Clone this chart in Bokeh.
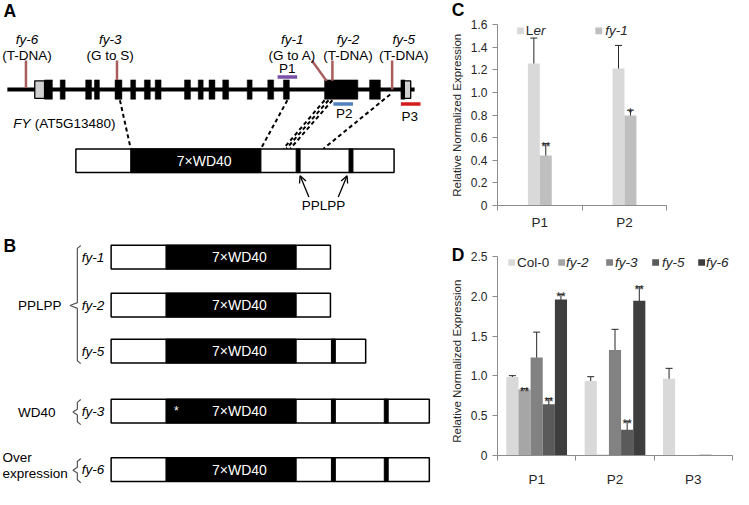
import math
from bokeh.plotting import figure
from bokeh.models import (Range1d, FixedTicker, Whisker, TeeHead, ColumnDataSource,
                          Label, BoxAnnotation, Arrow, OpenHead, NumeralTickFormatter)
from bokeh.layouts import row, column
from bokeh.core.properties import value
from bokeh.embed import file_html
from bokeh.resources import INLINE

FONT = "Liberation Sans"

# ---------------- Panel C data ----------------
c_categories = ["P1", "P2"]
c_series = ["Ler", "fy-1"]
c_ler = [1.255, 1.21]
c_ler_err = [0.225, 0.205]
c_ler_sig = ["", ""]
c_fy1 = [0.442, 0.795]
c_fy1_err = [0.105, 0.047]
c_fy1_sig = ["**", "*"]
c_colors = ["#d9d9d9", "#bfbfbf"]
c_yticks = [0, 0.2, 0.4, 0.6, 0.8, 1.0, 1.2, 1.4, 1.6]

# ---------------- Panel D data ----------------
d_categories = ["P1", "P2", "P3"]
d_series = ["Col-0", "fy-2", "fy-3", "fy-5", "fy-6"]
d_col0 = [0.985, 0.935, 0.965]
d_col0_err = [0.018, 0.055, 0.13]
d_col0_sig = ["", "", ""]
d_fy2 = [0.828, 0.01, 0.0]
d_fy2_err = [0.012, 0.0, 0.0]
d_fy2_sig = ["**", "", ""]
d_fy3 = [1.23, 1.325, 0.0]
d_fy3_err = [0.32, 0.26, 0.0]
d_fy3_sig = ["", "", ""]
d_fy5 = [0.645, 0.325, 0.01]
d_fy5_err = [0.07, 0.105, 0.0]
d_fy5_sig = ["**", "**", ""]
d_fy6 = [1.96, 1.945, 0.0]
d_fy6_err = [0.065, 0.175, 0.0]
d_fy6_sig = ["**", "**", ""]
d_colors = ["#d9d9d9", "#a6a6a6", "#828282", "#5a5a5a", "#3e3e3e"]
d_yticks = [0, 0.5, 1.0, 1.5, 2.0, 2.5]

# ---------------- Panel A: gene model ----------------
gene_span = [7, 423]
exon_starts = [45, 61, 87, 96, 117, 133, 147, 158, 188, 202, 213, 227, 252, 273, 289, 331, 377, 409]
exon_ends = [53, 66, 93, 101, 124, 138, 153, 164, 194, 207, 219, 233, 257, 279, 295, 365, 388, 413]
utr_starts = [35, 412.5]
utr_ends = [45, 419]
mut_names = ["fy-6", "fy-3", "fy-1", "fy-2", "fy-5"]
mut_types = ["(T-DNA)", "(G to S)", "(G to A)", "(T-DNA)", "(T-DNA)"]
mut_label_x = [27, 112, 298, 355, 412]
mut_top_x = [26, 119, 318, 339, 400]
mut_bot_x = [26, 119, 333, 339, 400]
mut_bot_y = [90, 82, 83, 83, 92]
primer_names = ["P1", "P2", "P3"]
primer_start = [283, 340, 409]
primer_end = [303, 360, 429]
primer_y = [79, 107, 107]
primer_label_x = [293, 351, 418]
primer_label_y = [70, 117, 120]
primer_colors = ["#7b4fa6", "#4f81bd", "#d41c1c"]

# protein domain structure (units along protein box)
protein_len = 325
domain_starts = [56, 225, 279]
domain_ends = [189, 229, 283]
full_protein_x = 77
full_protein_y = 165.5
connector_x0 = [122, 293, 331, 335, 339, 398]
connector_y0 = [103, 103, 103, 103, 103, 97]
connector_x1 = [133, 266, 289, 292, 296, 330]
connector_y1 = [153, 153, 153, 153, 153, 153]

# ---------------- Panel B: truncated proteins ----------------
b_names = ["fy-1", "fy-2", "fy-5", "fy-3", "fy-6"]
b_lengths = [224, 224, 260, 325, 325]
b_y = [265, 314.5, 362, 424, 484.5]
b_x = 113
b_groups = ["PPLPP", "WD40"]
b_group_x = [40, 37]
b_group_y = [315, 425]

AXIS_TITLE = "Relative Normalized Expression"
BOX_H = 24.5
LABEL_FS = "13.5px"
MUT_COLOR = "#a85c5c"

# =============== left figure (A + B, panel letters C/D and axis titles) ===============
pa = figure(width=467, height=489, x_range=Range1d(0, 477), y_range=Range1d(505, 0),
            output_backend="svg", toolbar_location=None, min_border=0,
            x_axis_location=None, y_axis_location=None)
pa.grid.visible = False
pa.outline_line_color = None


def txt(p, x, y, t, size=LABEL_FS, style="normal", color="black", align="center",
        baseline="middle", angle=0.0):
    p.text(x=[x], y=[y], text=[t], text_font=value(FONT), text_font_size=value(size),
           text_font_style=style, text_color=color, text_align=align, text_baseline=baseline,
           angle=angle)


# panel letters
txt(pa, 3, 11, "A", size="17.5px", style="bold", align="left")
txt(pa, 3, 254, "B", size="17.5px", style="bold", align="left")
txt(pa, 461, 10, "C", size="17.5px", style="bold", align="left")
txt(pa, 461, 263, "D", size="17.5px", style="bold", align="left")
# y-axis titles of C and D
txt(pa, 466, 118.5, AXIS_TITLE, size="11.5px", color="#262626", angle=math.pi / 2)
txt(pa, 466, 372.5, AXIS_TITLE, size="11.5px", color="#262626", angle=math.pi / 2)

# gene backbone
pa.segment(x0=[gene_span[0]], y0=[92], x1=[gene_span[1]], y1=[92], line_color="black", line_width=4)
pa.quad(left=exon_starts, right=exon_ends, top=[82] * len(exon_starts), bottom=[102] * len(exon_starts),
        fill_color="black", line_color="black", line_width=0.5)
pa.quad(left=utr_starts, right=utr_ends, top=[83, 83], bottom=[101, 101],
        fill_color="#d0d0d0", line_color="black", line_width=1.3)

# mutation sites
pa.segment(x0=mut_top_x, y0=[62] * 5, x1=mut_bot_x, y1=mut_bot_y, line_color=MUT_COLOR, line_width=2.5)
for name, typ, x in zip(mut_names, mut_types, mut_label_x):
    txt(pa, x, 40, name, style="italic")
    txt(pa, x, 56.5, typ)

# primers
for name, x0, x1, y, lx, ly, col in zip(primer_names, primer_start, primer_end, primer_y,
                                        primer_label_x, primer_label_y, primer_colors):
    pa.segment(x0=[x0], y0=[y], x1=[x1], y1=[y], line_color=col, line_width=3.5)
    txt(pa, lx, ly, name)

# gene name
txt(pa, 13, 127, "FY", style="italic", align="left")
txt(pa, 35, 127, "(AT5G13480)", align="left")

# dashed connectors
pa.segment(x0=connector_x0, y0=connector_y0, x1=connector_x1, y1=connector_y1,
           line_color="black", line_width=2, line_dash="4 3")


def protein(p, x, yc, length):
    top, bot = yc - BOX_H / 2, yc + BOX_H / 2
    p.quad(left=[x], right=[x + length], top=[top], bottom=[bot], fill_color="white",
           line_color="black", line_width=1.5)
    ls = [x + s for s, e in zip(domain_starts, domain_ends) if s < length]
    rs = [x + min(e, length) for s, e in zip(domain_starts, domain_ends) if s < length]
    p.quad(left=ls, right=rs, top=[top] * len(ls), bottom=[bot] * len(ls),
           fill_color="black", line_color="black", line_width=1)
    txt(p, x + 131, yc, "7\u00d7WD40", size="14px", color="white")


protein(pa, full_protein_x, full_protein_y, protein_len)

# PPLPP arrows
for xs, xe in [(315, 306), (345, 354)]:
    pa.add_layout(Arrow(end=OpenHead(size=7, line_width=1.3, line_color="black"),
                        x_start=xs, y_start=203, x_end=xe, y_end=181,
                        line_color="black", line_width=1.3))
txt(pa, 330, 212, "PPLPP")

# panel B constructs
for name, length, yc in zip(b_names, b_lengths, b_y):
    protein(pa, b_x, yc, length)
    txt(pa, 83, yc, name, style="italic", align="left")
txt(pa, 179.5, 424, "*", size="12px", color="white")


# brackets
def brace(p, top, bot, mid, tip):
    xs = [82, 78.5, 78.5, tip, 78.5, 78.5, 82]
    ys = [top, top + 3, mid - 3, mid, mid + 3, bot - 3, bot]
    p.line(x=xs, y=ys, line_color="#555555", line_width=1.2)


brace(pa, 253, 375, 315, 71)
brace(pa, 412, 438, 425, 74)
brace(pa, 473, 498, 485, 74)
for g, gx, gy in zip(b_groups, b_group_x, b_group_y):
    txt(pa, gx, gy, g)
txt(pa, 2, 472, "Over", align="left")
txt(pa, 2, 488, "expression", align="left")


# =============== bar charts ===============
def bar_fig(w, h, ncat, xmax, ymax, yticks, mb):
    p = figure(width=w, height=h, x_range=Range1d(0, xmax), y_range=Range1d(0, ymax),
               output_backend="svg", toolbar_location=None,
               min_border_left=mb[0], min_border_right=mb[1], min_border_top=mb[2],
               min_border_bottom=mb[3])
    p.grid.visible = False
    p.outline_line_color = None
    ya = p.yaxis[0]
    ya.ticker = FixedTicker(ticks=yticks)
    ya.formatter = NumeralTickFormatter(format="0.0")
    ya.major_label_overrides = {0: "0"}
    ya.major_tick_in = 0
    ya.major_tick_out = 5
    ya.minor_tick_out = 0
    ya.minor_tick_in = 0
    ya.major_label_standoff = 5
    xa = p.xaxis[0]
    xa.ticker = FixedTicker(ticks=[i + 0.5 for i in range(ncat)], minor_ticks=list(range(ncat + 1)))
    xa.bounds = (0, ncat)
    xa.major_tick_in = 0
    xa.major_tick_out = 0
    xa.minor_tick_in = 0
    xa.minor_tick_out = 5
    for ax in (xa, ya):
        ax.axis_line_color = "#8c8c8c"
        ax.major_tick_line_color = "#8c8c8c"
        ax.minor_tick_line_color = "#8c8c8c"
        ax.major_label_text_font = FONT
        ax.major_label_text_color = "#262626"
    ya.major_label_text_font_size = "12px"
    xa.major_label_text_font_size = "13.5px"
    return p


def add_series(p, vals_list, errs_list, sigs_list, colors, bw):
    n = len(vals_list)
    for j, (vals, errs, sigs, col) in enumerate(zip(vals_list, errs_list, sigs_list, colors)):
        off = (j - (n - 1) / 2) * bw
        xs = [i + 0.5 + off for i in range(len(vals))]
        p.vbar(x=xs, top=vals, width=bw, fill_color=col, line_color=None)
        ex = [x for x, e in zip(xs, errs) if e > 0]
        eu = [v + e for v, e in zip(vals, errs) if e > 0]
        el = [v - e for v, e in zip(vals, errs) if e > 0]
        if ex:
            src = ColumnDataSource(dict(x=ex, upper=eu, lower=el))
            p.add_layout(Whisker(source=src, base="x", upper="upper", lower="lower",
                                 line_color="#262626", line_width=1,
                                 upper_head=TeeHead(size=7, line_color="#262626", line_width=1),
                                 lower_head=TeeHead(size=7, line_color="#262626", line_width=1)))
        sx = [x for x, s in zip(xs, sigs) if s]
        sy = [v + e for v, e, s in zip(vals, errs, sigs) if s]
        st = [s for s in sigs if s]
        if sx:
            p.text(x=sx, y=sy, text=st, text_font=value(FONT), text_font_size=value("12px"),
                   text_color="#262626", text_align="center", text_baseline="alphabetic",
                   y_offset=3)


def legend_square(p, x0, x1, y0, y1, col):
    p.add_layout(BoxAnnotation(left=x0, right=x1, bottom=y0, top=y1, fill_color=col,
                               fill_alpha=1, line_color=None))


def lab(p, x, y, t, style="normal", size="13.5px", xo=0):
    p.add_layout(Label(x=x, y=y, text=t, x_offset=xo, text_font=FONT, text_font_size=size,
                       text_font_style=style, text_color="#262626",
                       text_baseline="middle", text_align="left"))


# ---- Panel C ---- (frame spans same width as D; axis line bounded to the two categories)
pc = bar_fig(266, 242, len(c_categories), 2.776, 1.6, c_yticks, (30, 1, 24, 37))
pc.xaxis[0].major_label_overrides = {i + 0.5: c for i, c in enumerate(c_categories)}
pc.xaxis[0].major_label_standoff = 4
add_series(pc, [c_ler, c_fy1], [c_ler_err, c_fy1_err], [c_ler_sig, c_fy1_sig], c_colors, 0.141)
legend_square(pc, 0.231, 0.312, 1.514, 1.574, c_colors[0])
lab(pc, 0.335, 1.545, "L")
lab(pc, 0.335, 1.545, "er", style="italic", xo=7.6)
legend_square(pc, 1.156, 1.237, 1.514, 1.574, c_colors[1])
lab(pc, 1.272, 1.545, "fy-1", style="italic")

# ---- Panel D ----
pd_ = bar_fig(266, 247, len(d_categories), 3, 2.5, d_yticks, (30, 1, 14, 24))
pd_.xaxis[0].major_label_overrides = {i + 0.5: c for i, c in enumerate(d_categories)}
pd_.xaxis[0].major_label_standoff = 11
add_series(pd_, [d_col0, d_fy2, d_fy3, d_fy5, d_fy6],
           [d_col0_err, d_fy2_err, d_fy3_err, d_fy5_err, d_fy6_err],
           [d_col0_sig, d_fy2_sig, d_fy3_sig, d_fy5_sig, d_fy6_sig], d_colors, 0.155)
sq_x = [0.1375, 0.775, 1.3875, 1.975, 2.5625]
tx_x = [0.25, 0.875, 1.5, 2.1, 2.6625]
for name, col, sx, tx in zip(d_series, d_colors, sq_x, tx_x):
    legend_square(pd_, sx, sx + 0.0875, 2.385, 2.466, col)
    lab(pd_, tx, 2.426, name, style="normal" if name == "Col-0" else "italic")

layout = row(pa, column(pc, pd_, spacing=0), spacing=0)
open("out.html", "w").write(file_html(layout, INLINE))
